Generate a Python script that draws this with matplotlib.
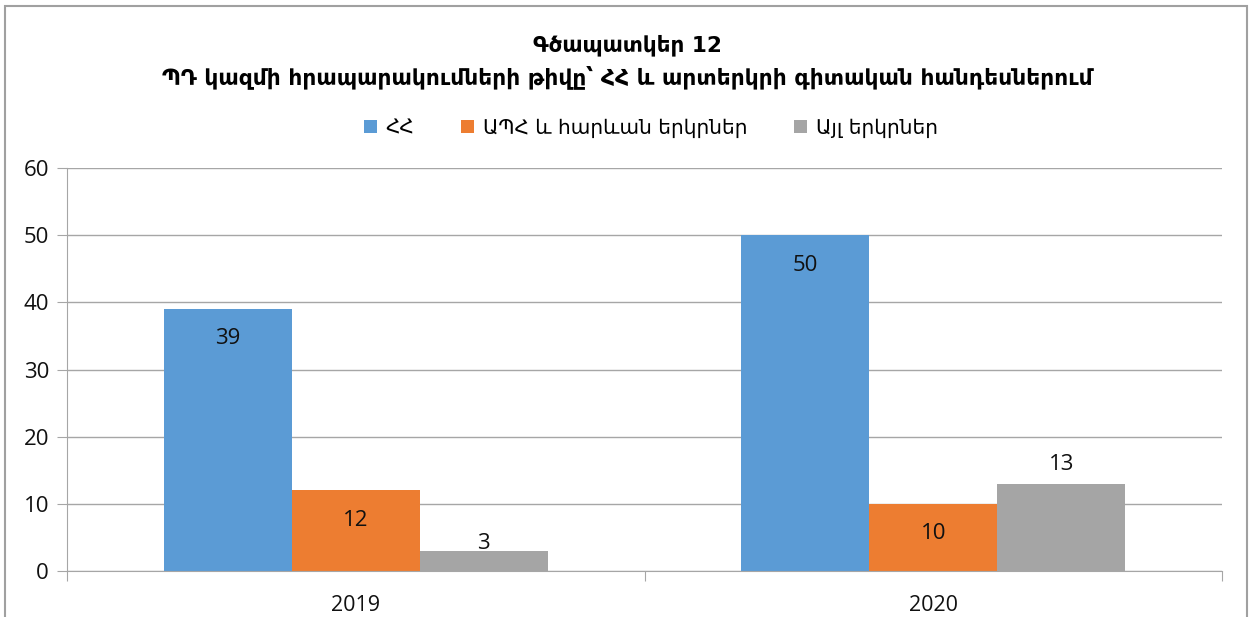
import matplotlib.pyplot as plt
import numpy as np
from matplotlib.patches import Rectangle

years = ['2019', '2020']
series_names = ['ՀՀ', 'ԱՊՀ և հարևան երկրներ', 'Այլ երկրներ']
hh = [39, 50]
apn = [12, 10]
other = [3, 13]
colors = ['#5B9BD5', '#ED7D31', '#A5A5A5']

title1 = 'Գծապատկեր 12'
title2 = 'ՊԴ կազմի հրապարակումների թիվը՝ ՀՀ և արտերկրի գիտական հանդեսներում'

fig = plt.figure(figsize=(12.54, 6.17), dpi=100)
ax = fig.add_axes([67/1254, 1 - 571/617, (1222 - 67)/1254, (571 - 168)/617])

x = np.arange(len(years))
w = 0.2215
all_vals = [hh, apn, other]
bars = []
for i, vals in enumerate(all_vals):
    b = ax.bar(x + (i - 1) * w, vals, w, color=colors[i], label=series_names[i], zorder=2)
    bars.append(b)

num_font = 'Open Sans'
# inside-end labels for first two series
for b in bars[:2]:
    for rect in b:
        ax.annotate(str(int(rect.get_height())), (rect.get_x() + rect.get_width() / 2, rect.get_height()),
                    xytext=(0, -21.5), textcoords='offset points', ha='center', va='center',
                    fontsize=16, family=num_font, color='#111111')
# gray series labels sit above
gray_offsets = [5, 14]
for rect, off in zip(bars[2], gray_offsets):
    ax.annotate(str(int(rect.get_height())), (rect.get_x() + rect.get_width() / 2, rect.get_height()),
                xytext=(0, off), textcoords='offset points', ha='center', va='center',
                fontsize=16, family=num_font, color='#111111')

ax.set_xlim(-0.5, 1.5)
ax.set_ylim(0, 60)
ax.set_yticks(range(0, 61, 10))
ax.grid(axis='y', color='#A6A6A6', linewidth=1, zorder=0)
ax.set_axisbelow(True)
for s in ['top', 'right']:
    ax.spines[s].set_visible(False)
for s in ['left', 'bottom']:
    ax.spines[s].set_color('#A6A6A6')
ax.tick_params(axis='y', length=7, color='#A6A6A6', labelsize=16, pad=6, labelcolor='#111111')
for lbl in ax.get_yticklabels():
    lbl.set_family(num_font)

# category separators
ax.set_xticks([-0.5, 0.5, 1.5])
ax.set_xticklabels([])
ax.tick_params(axis='x', length=7, color='#A6A6A6')
for xi, yr in zip(x, years):
    ax.text(xi, -0.085, yr, transform=ax.get_xaxis_transform(), ha='center', va='center',
            fontsize=15.5, family=num_font, color='#111111')

fig.text(0.5, 1 - 45/617, title1, ha='center', va='center', fontsize=15.5, fontweight='bold',
         family=['DejaVu Sans'])
fig.text(0.5, 1 - 77/617, title2, ha='center', va='center', fontsize=15.7, fontweight='bold',
         family=['DejaVu Sans'])

leg = fig.legend(loc='center', bbox_to_anchor=(0.519, 1 - 128/617), ncol=3, frameon=False,
                 prop={'family': 'DejaVu Sans', 'size': 14.5}, handlelength=0.65, handleheight=0.65,
                 columnspacing=2.3, handletextpad=0.45)

# outer chart border
fig.patches.append(Rectangle((5/1254, -0.05), (1247 - 5)/1254, 1.05 - 6/617, transform=fig.transFigure,
                             fill=False, edgecolor='#A0A0A0', linewidth=1.5))

fig.savefig('out.png', dpi=100)
